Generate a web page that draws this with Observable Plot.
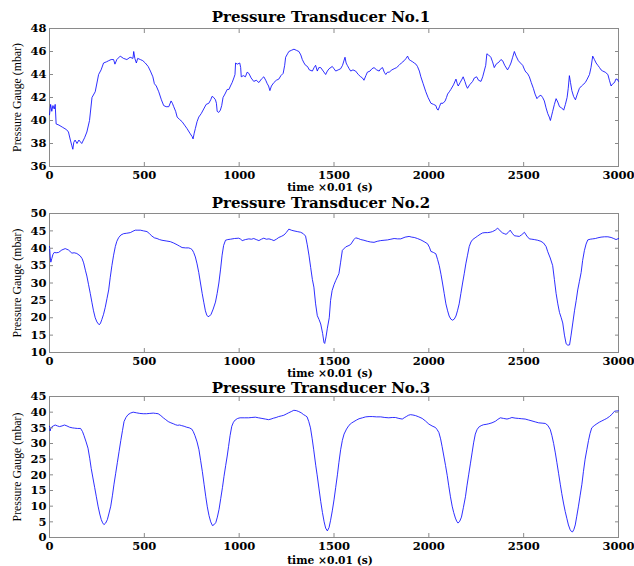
<!DOCTYPE html>
<html><head><meta charset="utf-8">
<script src="https://cdn.jsdelivr.net/npm/d3@7"></script>
<script src="https://cdn.jsdelivr.net/npm/@observablehq/plot@0.6"></script>
<style>
body{margin:0;background:#fff;}
#chart{width:634px;height:566px;background:#fff;}
#chart svg{display:block;overflow:visible;}
</style></head><body><div id="chart"></div>
<script>
const titles = ["Pressure Transducer No.1", "Pressure Transducer No.2", "Pressure Transducer No.3"];
const xLabel = "time \u00d70.01 (s)";
const yLabel = "Pressure Gauge (mbar)";
const xTicks = [0, 500, 1000, 1500, 2000, 2500, 3000];
const yTicks1 = [36, 38, 40, 42, 44, 46, 48];
const yTicks2 = [10, 15, 20, 25, 30, 35, 40, 45, 50];
const yTicks3 = [0, 5, 10, 15, 20, 25, 30, 35, 40, 45];

const t1 = [0,6,12,18,25,30,35,50,70,90,100,110,118,123,128,135,145,155,170,185,197,211,224,241,259,272,285,300,312,325,338,345,355,373,390,408,425,440,444,450,458,465,479,492,505,520,532,545,553,563,576,590,602,615,629,641,648,655,665,673,685,699,712,725,740,752,757,763,769,778,787,800,813,826,840,850,857,866,875,880,884,892,901,908,915,925,937,946,954,963,972,978,981,990,1003,1008,1011,1022,1033,1042,1051,1063,1077,1090,1104,1117,1130,1140,1148,1155,1162,1170,1183,1196,1209,1220,1232,1240,1245,1255,1262,1275,1289,1302,1315,1325,1333,1342,1350,1360,1370,1386,1395,1403,1412,1420,1430,1443,1456,1465,1474,1491,1500,1509,1522,1535,1545,1558,1564,1570,1580,1588,1600,1614,1628,1641,1650,1658,1668,1676,1690,1700,1711,1725,1738,1746,1756,1765,1773,1782,1791,1805,1817,1830,1843,1855,1870,1880,1888,1896,1905,1915,1923,1932,1940,1950,1958,1970,1984,1996,2011,2025,2037,2043,2049,2056,2063,2075,2086,2093,2099,2108,2116,2130,2143,2150,2155,2165,2175,2181,2190,2198,2204,2215,2231,2240,2252,2262,2275,2284,2292,2300,2306,2315,2327,2336,2345,2355,2371,2380,2389,2400,2415,2425,2433,2442,2451,2460,2472,2483,2495,2505,2512,2520,2530,2540,2551,2560,2570,2580,2591,2600,2609,2618,2627,2635,2641,2647,2653,2662,2671,2680,2689,2700,2711,2720,2729,2735,2741,2747,2754,2763,2773,2783,2794,2805,2812,2825,2835,2847,2855,2864,2873,2882,2891,2900,2908,2917,2930,2944,2952,2961,2970,2979,2986,2993,3000];
const p1 = [40.5,41.4,40.8,41.3,41.0,41.4,39.7,39.6,39.4,39.2,39.0,38.3,37.8,37.5,38.1,38.3,38.0,38.3,38.0,38.5,39.0,40.0,42.0,42.5,44.0,44.4,45.0,45.1,45.2,45.3,45.3,44.9,45.3,45.6,45.4,45.3,45.5,45.4,46.0,45.4,45.0,45.4,45.3,45.2,45.0,44.7,44.3,43.8,43.2,43.0,42.5,41.8,41.3,41.2,41.2,41.7,41.5,41.2,40.8,40.3,40.1,39.9,39.6,39.3,38.9,38.6,38.4,38.9,39.3,39.9,40.3,40.6,41.0,41.4,41.5,41.8,42.1,42.0,41.8,41.5,40.8,40.7,40.9,41.3,42.0,42.3,42.7,42.7,43.0,43.3,43.7,44.0,45.0,44.9,45.0,44.6,43.8,43.9,43.8,44.2,44.1,43.7,43.4,43.5,43.3,43.6,43.8,43.5,43.2,43.0,42.6,43.0,43.3,43.5,43.6,43.9,44.1,44.8,45.5,45.8,46.0,46.1,46.2,46.1,46.0,45.7,45.3,45.0,44.8,44.7,44.4,44.3,44.6,44.8,44.3,44.6,44.6,44.3,44.0,44.3,44.5,44.7,44.5,44.3,44.4,44.5,44.8,45.5,45.0,44.8,44.5,44.3,44.4,44.3,44.0,43.8,43.7,43.5,43.9,44.2,44.3,44.5,44.6,44.4,44.3,44.5,44.6,44.2,44.0,44.2,44.2,44.4,44.5,44.6,44.8,45.0,45.2,45.4,45.6,45.3,45.2,45.1,45.0,44.9,44.7,44.3,43.8,43.2,42.5,42.0,41.5,41.4,41.3,41.0,40.9,41.2,41.5,41.5,41.7,42.0,42.3,42.5,42.7,43.1,43.6,43.2,43.0,43.3,43.6,43.8,43.4,43.0,42.8,43.1,43.4,43.7,43.8,43.5,43.4,43.8,44.3,44.8,45.8,45.7,45.5,45.1,44.6,44.9,45.1,45.3,45.2,44.8,44.4,44.7,45.0,45.5,46.0,45.6,45.2,45.0,44.8,44.4,44.2,44.1,43.8,43.3,42.8,42.3,41.9,42.1,42.2,42.0,41.7,41.1,40.6,40.3,40.0,40.4,40.8,41.4,41.9,41.6,41.2,41.1,40.9,41.4,42.0,42.8,43.9,43.3,42.6,42.1,41.8,42.3,42.8,43.0,43.1,43.3,43.6,44.0,44.6,45.6,45.3,45.0,44.8,44.6,44.4,44.3,44.2,44.0,43.5,43.0,43.2,43.3,43.6,43.6,43.4];

const t2 = [0,4,7,12,18,25,35,48,65,83,100,118,130,144,162,172,180,190,197,206,215,224,232,241,250,261,268,276,285,294,303,312,320,329,338,347,355,364,376,391,405,426,440,452,466,479,496,514,527,540,553,567,580,593,615,637,655,673,686,699,717,734,744,752,760,769,778,787,796,805,814,822,829,836,844,852,863,875,884,893,902,910,918,928,940,954,975,998,1008,1016,1033,1051,1065,1077,1090,1104,1117,1130,1143,1157,1170,1183,1196,1209,1222,1236,1248,1262,1275,1289,1306,1324,1338,1350,1359,1368,1377,1386,1394,1403,1412,1421,1430,1440,1447,1451,1458,1465,1475,1482,1490,1500,1509,1526,1535,1544,1562,1579,1588,1605,1614,1628,1641,1658,1676,1693,1711,1728,1746,1764,1782,1800,1817,1835,1852,1875,1896,1910,1923,1940,1958,1975,1993,2003,2011,2024,2037,2046,2055,2064,2072,2081,2090,2099,2107,2116,2125,2134,2143,2151,2160,2169,2178,2187,2195,2204,2213,2222,2231,2244,2257,2270,2283,2296,2310,2323,2336,2350,2363,2376,2389,2398,2407,2418,2429,2440,2451,2464,2477,2490,2504,2517,2530,2543,2556,2574,2591,2605,2618,2627,2640,2653,2662,2671,2680,2689,2698,2706,2715,2724,2733,2742,2750,2759,2768,2777,2785,2794,2803,2811,2820,2829,2838,2851,2864,2878,2891,2908,2926,2944,2961,2975,2987,3000];
const p2 = [40.5,37.5,36.0,37.0,38.2,38.8,38.7,38.8,39.5,39.9,39.5,38.6,38.7,38.5,37.8,37.0,35.8,33.5,32.0,29.5,27.0,24.3,22.0,20.0,18.8,18.0,18.3,19.5,21.0,23.0,25.5,28.0,31.5,35.0,38.0,40.5,42.0,43.0,43.8,44.2,44.3,44.5,44.9,45.2,45.2,45.2,45.0,44.8,44.2,43.5,43.0,42.8,42.5,42.3,42.1,41.9,41.5,41.0,40.6,40.2,40.1,40.1,39.9,39.6,38.8,37.5,35.5,33.0,30.0,27.0,24.3,22.0,20.8,20.3,20.5,21.0,22.5,24.5,27.0,30.0,34.0,38.0,40.8,42.3,42.5,42.6,42.8,42.9,42.6,42.2,42.5,42.7,42.6,42.8,42.5,42.2,42.6,42.9,42.6,42.7,42.5,42.2,42.6,43.1,43.4,43.8,44.5,45.5,45.2,45.0,44.8,44.6,44.2,43.5,41.0,38.0,34.5,31.0,28.8,24.0,20.6,19.5,18.2,15.5,12.9,12.6,14.5,17.0,20.0,25.0,27.8,29.5,30.7,32.7,36.0,39.4,40.4,40.8,41.1,42.5,43.0,42.8,42.5,42.3,42.0,41.8,41.7,42.0,42.2,42.3,42.4,42.6,42.8,42.7,42.7,43.2,43.4,43.2,43.1,42.8,42.4,41.9,41.3,40.3,39.1,38.8,38.4,36.8,35.0,32.5,30.0,27.0,24.0,22.0,20.5,19.6,19.3,19.6,20.5,22.0,24.0,27.0,30.0,32.8,35.5,38.0,40.5,41.8,42.5,43.0,43.5,44.0,44.4,44.5,44.5,44.6,44.8,45.2,45.8,45.0,44.4,44.2,44.0,44.5,45.2,44.3,43.6,43.5,43.4,43.9,44.6,43.5,42.7,42.6,42.5,42.3,42.0,41.5,40.5,39.0,37.2,35.0,31.0,27.0,24.0,21.5,20.0,18.5,15.0,12.5,12.1,12.2,15.0,18.5,22.0,25.0,28.0,30.5,33.0,36.5,39.3,41.2,42.4,42.6,42.7,42.8,43.0,43.2,43.3,43.3,43.1,42.8,42.5,42.8];

const t3 = [0,3,7,12,20,30,42,53,66,79,92,106,120,132,148,164,174,182,193,203,212,220,229,238,247,256,265,273,280,287,296,305,314,323,332,340,349,358,367,376,385,393,403,414,427,441,458,476,494,511,529,547,560,573,587,600,613,626,640,653,664,675,686,697,710,723,737,750,758,767,778,788,797,806,815,824,832,841,850,859,868,877,885,894,903,912,920,929,937,944,952,961,970,979,992,1005,1027,1049,1067,1085,1102,1120,1138,1155,1168,1182,1195,1208,1222,1235,1248,1261,1275,1288,1301,1314,1327,1340,1349,1358,1367,1376,1385,1393,1404,1411,1421,1430,1439,1448,1456,1465,1474,1482,1491,1500,1509,1518,1526,1535,1544,1553,1566,1579,1592,1605,1619,1632,1650,1667,1685,1702,1724,1746,1768,1789,1807,1824,1842,1860,1870,1881,1892,1903,1916,1930,1947,1965,1982,2000,2017,2035,2044,2053,2062,2070,2079,2088,2097,2105,2114,2123,2131,2140,2147,2154,2163,2172,2182,2193,2201,2210,2219,2228,2236,2245,2254,2263,2276,2289,2302,2316,2333,2351,2364,2377,2394,2412,2425,2438,2455,2473,2490,2508,2526,2544,2561,2579,2597,2614,2627,2640,2649,2658,2667,2675,2684,2693,2701,2710,2719,2728,2736,2745,2752,2758,2765,2772,2780,2789,2798,2807,2815,2824,2833,2842,2850,2859,2872,2886,2899,2912,2925,2938,2952,2965,2972,2979,2990,3000];
const p3 = [35.5,34.0,34.8,35.3,35.6,35.9,35.6,35.4,35.6,35.9,35.6,35.2,35.0,34.9,34.8,34.8,33.8,32.5,30.5,28.5,25.3,22.0,19.0,16.0,13.0,10.0,7.5,5.7,4.7,4.1,4.6,5.7,7.8,10.0,13.5,17.0,20.5,24.0,27.5,31.0,34.2,37.0,38.3,39.2,39.7,40.0,39.8,39.6,39.5,39.5,39.6,39.7,39.6,39.5,38.9,38.2,37.6,37.0,36.6,36.3,36.0,35.8,35.9,35.7,35.5,35.2,35.0,34.6,33.8,32.5,30.5,28.0,24.5,21.0,17.0,13.0,9.8,7.0,5.0,3.8,4.1,4.8,6.5,9.0,12.5,16.0,19.5,23.0,26.0,29.0,32.5,35.5,36.8,37.5,38.0,38.2,38.2,38.2,38.3,38.4,38.2,38.0,37.8,37.6,37.8,38.1,38.3,38.6,38.8,39.0,39.4,39.8,40.2,40.6,40.5,40.2,39.8,39.2,38.9,38.5,37.0,35.0,31.5,28.0,22.9,20.0,15.5,11.5,8.0,5.0,3.0,2.1,3.2,5.5,8.5,12.0,16.0,20.0,24.0,28.0,31.0,33.0,34.6,35.8,36.5,37.0,37.5,37.9,38.2,38.5,38.6,38.6,38.5,38.5,38.3,38.2,38.3,38.3,38.0,37.8,38.2,38.6,39.0,39.2,39.1,38.9,38.5,38.0,37.2,36.2,35.6,35.1,34.4,33.5,31.5,29.0,26.0,23.0,19.8,16.5,13.0,10.0,8.0,6.2,5.2,4.6,5.2,6.5,9.5,13.0,16.5,20.0,23.5,27.0,30.2,33.0,34.4,35.2,35.7,36.0,36.1,36.3,36.6,37.1,37.7,38.2,38.0,37.8,38.0,38.3,38.1,38.0,37.9,37.8,37.5,37.2,36.9,36.6,36.5,36.4,35.8,34.5,32.5,30.0,27.0,24.0,20.5,17.0,14.0,11.0,8.3,6.0,4.0,2.5,1.9,1.8,2.6,4.0,6.8,10.0,13.5,17.0,21.0,25.0,28.0,31.0,33.2,35.0,35.7,36.3,36.8,37.2,37.6,38.0,38.6,39.3,39.8,40.3,40.4,40.4];

const GRAY = "#8a8a8a";
const tickFont = {fontFamily: "DejaVu Serif", fontSize: 11.5, fontWeight: "bold"};
const plainFormat = d => String(d);

function panel({t, p, yDomain, yTicks, title, height, marginTop, marginBottom, xLabDy, titleDy}) {
  const data = t.map((x, i) => ({t: x, p: p[i]}));
  return Plot.plot({
    width: 634, height, marginLeft: 49, marginRight: 16, marginTop, marginBottom,
    style: {background: "white", overflow: "visible", color: "black"},
    x: {domain: [0, 3000]},
    y: {domain: yDomain},
    marks: [
      Plot.frame({stroke: GRAY}),
      Plot.line(data, {x: "t", y: "p", stroke: "#0a0aff", strokeWidth: 0.85}),
      Plot.axisX(xTicks, {anchor: "bottom", tickSize: 0, tickPadding: 4, tickFormat: plainFormat, label: null, ...tickFont}),
      Plot.axisX(xTicks, {anchor: "bottom", tickSize: -4, tickFormat: () => "", label: null, color: GRAY}),
      Plot.axisX(xTicks, {anchor: "top", tickSize: -4, tickFormat: () => "", label: null, color: GRAY}),
      Plot.axisY(yTicks, {anchor: "left", tickSize: 0, tickPadding: 3, tickFormat: plainFormat, label: null, ...tickFont}),
      Plot.axisY(yTicks, {anchor: "left", tickSize: -4, tickFormat: () => "", label: null, color: GRAY}),
      Plot.axisY(yTicks, {anchor: "right", tickSize: -4, tickFormat: () => "", label: null, color: GRAY}),
      Plot.text([title], {text: d => d, frameAnchor: "top", dy: titleDy, dx: -13, lineAnchor: "middle", textAnchor: "middle",
        fontFamily: "DejaVu Serif", fontSize: 15, fontWeight: "bold", fill: "black"}),
      Plot.text([xLabel], {text: d => d, frameAnchor: "bottom", dy: xLabDy, dx: -4, lineAnchor: "middle", textAnchor: "middle",
        fontFamily: "DejaVu Serif", fontSize: 10.7, fontWeight: "bold", fill: "black"}),
      Plot.text([yLabel], {text: d => d, frameAnchor: "left", dx: -32, rotate: -90, lineAnchor: "middle", textAnchor: "middle",
        fontFamily: "Liberation Serif", fontSize: 11.8, fill: "black"})
    ]
  });
}

const chart = document.getElementById("chart");
chart.append(panel({t: t1, p: p1, yDomain: [36, 48], yTicks: yTicks1, title: titles[0], height: 195, marginTop: 28, marginBottom: 29, xLabDy: 21.5, titleDy: -11}));
chart.append(panel({t: t2, p: p2, yDomain: [10, 50], yTicks: yTicks2, title: titles[1], height: 183, marginTop: 18, marginBottom: 26, xLabDy: 20.8, titleDy: -10}));
chart.append(panel({t: t3, p: p3, yDomain: [0, 45], yTicks: yTicks3, title: titles[2], height: 188, marginTop: 18, marginBottom: 29, xLabDy: 23, titleDy: -8.5}));
</script>
</body></html>
